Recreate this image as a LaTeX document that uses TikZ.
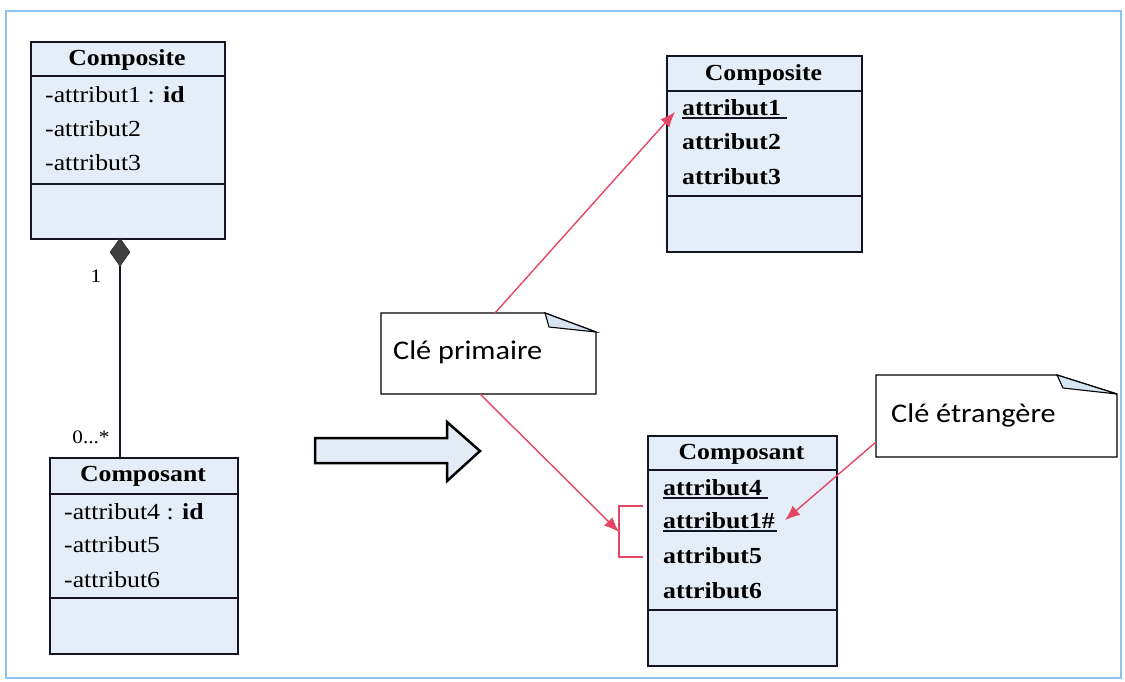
\documentclass[tikz,border=0pt]{standalone}
\usepackage{fontspec}
\setmainfont{Liberation Serif}[FakeStretch=1.12]
\newfontfamily\notefont{Carlito}[FakeStretch=1.12]
\usetikzlibrary{arrows.meta,shapes.geometric}
\definecolor{boxfill}{RGB}{228,238,248}
\definecolor{framec}{RGB}{140,195,240}
\definecolor{keyred}{RGB}{228,70,100}
\definecolor{boxline}{RGB}{20,20,35}
\definecolor{foldfill}{RGB}{215,228,242}
\begin{document}
\begin{tikzpicture}[x=1pt,y=-1pt,
  classbox/.style={draw=boxline,line width=1.6pt,fill=boxfill,inner sep=0,anchor=north west},
  sep/.style={draw=boxline,line width=1.4pt},
  hdr/.style={font=\fontsize{23}{23}\selectfont\bfseries,anchor=base,inner sep=0},
  attr/.style={font=\fontsize{23}{23}\selectfont,anchor=base west,inner sep=0},
  battr/.style={font=\fontsize{23}{23}\selectfont\bfseries,anchor=base west,inner sep=0},
  uline/.style={draw=boxline,line width=1.3pt},
  notebox/.style={draw=black,line width=1.3pt,fill=white},
  notetxt/.style={font=\notefont\fontsize{27}{27}\selectfont,anchor=base west,inner sep=0},
  mult/.style={font=\fontsize{19}{19}\selectfont,inner sep=0},
  keyline/.style={draw=keyred,line width=1.4pt},
  keyarrow/.style={keyline,-{Latex[length=15pt,width=12pt]}},
]
\useasboundingbox (0,0) rectangle (1125,681);
\draw[framec,line width=2pt] (6,11) rectangle (1121,678);

% ---------- UML: Composite (left) ----------
\node[classbox,minimum width=194pt,minimum height=197pt] (lcomp) at (30,41) {};
\draw[sep] (30,76) -- (224,76);
\draw[sep] (30,184) -- (224,184);
\node[hdr] (lcompT) at (127,65) {Composite};
\node[attr] (la1) at (45,102) {-attribut1 : \textbf{id}};
\node[attr] (la2) at (45,136) {-attribut2};
\node[attr] (la3) at (45,170) {-attribut3};

% ---------- UML: Composant (left) ----------
\node[classbox,minimum width=188pt,minimum height=196pt] (lcompo) at (49,457) {};
\draw[sep] (49,494) -- (237,494);
\draw[sep] (49,598) -- (237,598);
\node[hdr] (lcompoT) at (143,481) {Composant};
\node[attr] (lb1) at (64,519) {-attribut4 : \textbf{id}};
\node[attr] (lb2) at (64,552) {-attribut5};
\node[attr] (lb3) at (64,587) {-attribut6};

% composition link
\node[diamond,draw=boxline,fill=black!75,inner sep=0,minimum width=20pt,minimum height=28pt,anchor=north] (dia) at (120,238) {};
\draw[line width=1.4pt,boxline] (dia.south) -- (lcompo.north -| dia.south);
\node[mult] (m1) at (96,276) {1};
\node[mult] (m2) at (91,437) {0...*};

% ---------- transformation arrow ----------
\draw[line width=2.5pt,fill=foldfill!70,line join=miter]
  (315,438) -- (447,438) -- (447,422) -- (480,451) -- (447,481) -- (447,463) -- (315,463) -- cycle;

% ---------- relational: Composite (right) ----------
\node[classbox,minimum width=195pt,minimum height=196pt] (rcomp) at (666,55) {};
\draw[sep] (666,91) -- (861,91);
\draw[sep] (666,196) -- (861,196);
\node[hdr] (rcompT) at (763.5,80) {Composite};
\node[battr] (ra1) at (682,115) {attribut1};
\node[battr] (ra2) at (682,149) {attribut2};
\node[battr] (ra3) at (682,184) {attribut3};
\draw[uline] ([yshift=-3pt]ra1.base west) -- ++(105,0);

% ---------- relational: Composant (right) ----------
\node[classbox,minimum width=189pt,minimum height=230pt] (rcompo) at (647,435) {};
\draw[sep] (647,470) -- (836,470);
\draw[sep] (647,610) -- (836,610);
\node[hdr] (rcompoT) at (741.5,459) {Composant};
\node[battr] (rb1) at (663,495) {attribut4};
\node[battr] (rb2) at (663,528) {attribut1\#};
\node[battr] (rb3) at (663,563) {attribut5};
\node[battr] (rb4) at (663,598) {attribut6};
\draw[uline] ([yshift=-3pt]rb1.base west) -- ++(105,0);
\draw[uline] ([yshift=-3pt]rb2.base west) -- ++(114,0);

% bracket grouping the composite key
\draw[keyline] (643,506) -- (619,506) -- (619,557) -- (643,557);
\coordinate (brk) at (619,532);

% ---------- note: primary key ----------
\draw[notebox] (381,313) -- (545,313) -- (596,332) -- (596,394) -- (381,394) -- cycle;
\draw[line width=1.1pt,fill=foldfill] (545,313) -- (549,327) -- (596,332) -- cycle;
\node[notetxt] (pk) at (393,359) {Clé primaire};
\coordinate (pkTop) at (495,313);
\coordinate (pkBot) at (480,394);

% ---------- note: foreign key ----------
\draw[notebox] (876,375) -- (1057,375) -- (1117,394) -- (1117,457) -- (876,457) -- cycle;
\draw[line width=1.1pt,fill=foldfill] (1057,375) -- (1063,388) -- (1117,394) -- cycle;
\node[notetxt] (fk) at (891,422) {Clé étrangère};
\coordinate (fkEdge) at (876,442);

% ---------- key arrows ----------
\draw[keyarrow] (pkTop) -- ([xshift=-7pt,yshift=3pt]ra1.base west);
\draw[keyarrow] (pkBot) -- (brk);
\draw[keyarrow] (fkEdge) -- ([xshift=10pt]rb2.east);
\end{tikzpicture}
\end{document}
